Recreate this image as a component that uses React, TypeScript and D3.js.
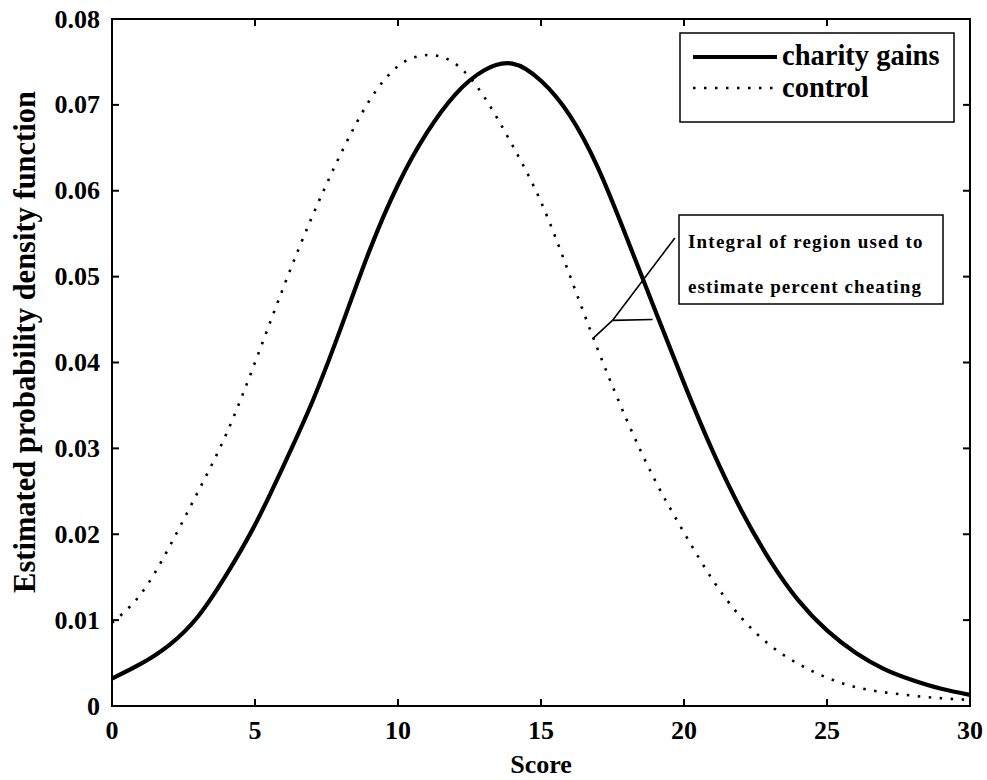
import React from "react";
import * as d3 from "d3";

// Score grid on which the two density estimates are tabulated
const scores = [
  0, 1, 2, 3, 4, 5, 6, 7, 8, 9, 10, 11, 12, 13, 14, 15,
  16, 17, 18, 19, 20, 21, 22, 23, 24, 25, 26, 27, 28, 29, 30,
];

// Estimated probability density, charity gains condition
const charityGains = [
  0.0032, 0.0049, 0.0071, 0.0104, 0.0153, 0.0211, 0.028, 0.0354, 0.044, 0.053,
  0.0607, 0.0667, 0.0712, 0.074, 0.0748, 0.0728, 0.0688, 0.0626, 0.0545, 0.046,
  0.0376, 0.0297, 0.0228, 0.017, 0.0123, 0.0088, 0.0062, 0.0043, 0.003, 0.002,
  0.0013,
];

// Estimated probability density, control condition
const control = [
  0.0097, 0.013, 0.0185, 0.0249, 0.0317, 0.04, 0.0488, 0.057, 0.0643, 0.0705,
  0.0745, 0.0758, 0.0748, 0.071, 0.0653, 0.0587, 0.0502, 0.0414, 0.0333, 0.0262,
  0.0202, 0.0147, 0.0103, 0.0071, 0.0049, 0.0033, 0.0022, 0.0016, 0.0012,
  0.0009, 0.0007,
];

const xTicks = [0, 5, 10, 15, 20, 25, 30];
const yTicks = [0, 0.01, 0.02, 0.03, 0.04, 0.05, 0.06, 0.07, 0.08];

const legendLabels = ["charity gains", "control"];
const noteLines = ["Integral of region used to", "estimate percent cheating"];

// Callout leader: from the control curve to a branch point, then to the
// charity-gains curve and up to the note box (data units)
const leaderStart = { x: 16.82, y: 0.0428 };
const leaderKnee = { x: 17.5, y: 0.0449 };
const leaderRight = { x: 18.9, y: 0.045 };
const leaderTop = { x: 19.68, y: 0.0545 };

const W = 987;
const H = 780;
const M = { left: 112, right: 970, top: 19, bottom: 706 };
const FONT = "'Liberation Serif', 'Times New Roman', serif";

export default function App() {
  const x = d3.scaleLinear().domain([0, 30]).range([M.left, M.right]);
  const y = d3.scaleLinear().domain([0, 0.08]).range([M.bottom, M.top]);

  const line = d3
    .line<number>()
    .x((_, i) => x(scores[i]))
    .y((d) => y(d))
    .curve(d3.curveNatural);

  const tickLen = 7;

  return (
    <svg
      width={W}
      height={H}
      style={{ position: "absolute", left: 0, top: 0, background: "#fff" }}
      fontFamily={FONT}
    >
      <defs>
        <clipPath id="plot-clip">
          <rect
            x={M.left}
            y={M.top}
            width={M.right - M.left}
            height={M.bottom - M.top}
          />
        </clipPath>
      </defs>

      {/* curves */}
      <g clipPath="url(#plot-clip)">
        <path
          d={line(control) || ""}
          fill="none"
          stroke="#000"
          strokeWidth={2.6}
          strokeDasharray="2.5 8.5"
        />
        <path
          d={line(charityGains) || ""}
          fill="none"
          stroke="#000"
          strokeWidth={4.2}
          strokeLinejoin="round"
        />
      </g>

      {/* frame */}
      <rect
        x={M.left}
        y={M.top}
        width={M.right - M.left}
        height={M.bottom - M.top}
        fill="none"
        stroke="#000"
        strokeWidth={2}
      />

      {/* x ticks (bottom and top, inward) */}
      {xTicks.map((t) => (
        <g key={"xt" + t}>
          <line x1={x(t)} x2={x(t)} y1={M.bottom} y2={M.bottom - tickLen} stroke="#000" strokeWidth={2} />
          <line x1={x(t)} x2={x(t)} y1={M.top} y2={M.top + tickLen} stroke="#000" strokeWidth={2} />
          <text
            x={x(t)}
            y={M.bottom + 33}
            textAnchor="middle"
            fontSize={26}
            fontWeight="bold"
          >
            {t}
          </text>
        </g>
      ))}

      {/* y ticks (left and right, inward) */}
      {yTicks.map((t) => (
        <g key={"yt" + t}>
          <line x1={M.left} x2={M.left + tickLen} y1={y(t)} y2={y(t)} stroke="#000" strokeWidth={2} />
          <line x1={M.right} x2={M.right - tickLen} y1={y(t)} y2={y(t)} stroke="#000" strokeWidth={2} />
          <text
            x={M.left - 12}
            y={y(t) + 8.5}
            textAnchor="end"
            fontSize={26}
            fontWeight="bold"
          >
            {t === 0 ? "0" : d3.format(".2f")(t)}
          </text>
        </g>
      ))}

      {/* axis titles */}
      <text
        x={(M.left + M.right) / 2}
        y={773}
        textAnchor="middle"
        fontSize={26}
        fontWeight="bold"
      >
        Score
      </text>
      <text
        transform={`translate(35, 342) rotate(-90)`}
        textAnchor="middle"
        fontSize={30.5}
        fontWeight="bold"
      >
        Estimated probability density function
      </text>

      {/* legend */}
      <g>
        <rect x={680} y={33} width={274} height={89} fill="#fff" stroke="#000" strokeWidth={1.5} />
        <line x1={693} x2={777} y1={57} y2={57} stroke="#000" strokeWidth={4.2} />
        <line x1={693} x2={777} y1={88} y2={88} stroke="#000" strokeWidth={2.6} strokeDasharray="2.5 8.5" />
        <text x={782} y={65} fontSize={28.5} fontWeight="bold">
          {legendLabels[0]}
        </text>
        <text x={782} y={97} fontSize={28.5} fontWeight="bold">
          {legendLabels[1]}
        </text>
      </g>

      {/* callout */}
      <g stroke="#000" strokeWidth={1.6} fill="none">
        <line x1={x(leaderStart.x)} y1={y(leaderStart.y)} x2={x(leaderKnee.x)} y2={y(leaderKnee.y)} />
        <line x1={x(leaderKnee.x)} y1={y(leaderKnee.y)} x2={x(leaderRight.x)} y2={y(leaderRight.y)} />
        <line x1={x(leaderKnee.x)} y1={y(leaderKnee.y)} x2={x(leaderTop.x)} y2={y(leaderTop.y)} />
      </g>
      <rect x={679} y={215} width={264} height={89} fill="#fff" stroke="#000" strokeWidth={1.5} />
      <text x={688} y={248} fontSize={19} fontWeight="bold" letterSpacing={1.2}>
        {noteLines[0]}
      </text>
      <text x={688} y={293} fontSize={19} fontWeight="bold" letterSpacing={1.1}>
        {noteLines[1]}
      </text>
    </svg>
  );
}
